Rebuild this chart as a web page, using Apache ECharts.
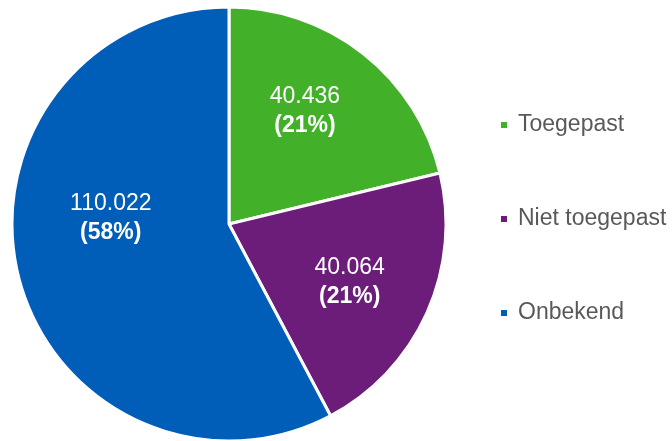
<!DOCTYPE html>
<html><head><meta charset="utf-8">
<script src="https://cdn.jsdelivr.net/npm/echarts@6/dist/echarts.min.js"></script>
<style>html,body{margin:0;padding:0;background:#fff}#c{width:672px;height:441px}</style>
</head><body><div id="c"></div>
<script>
const categories = ['Toegepast', 'Niet toegepast', 'Onbekend'];
const values = [40436, 40064, 110022];
const percents = ['21%', '21%', '58%'];
const colors = ['#43B02A', '#6C1D7A', '#005EB8'];
const labelOffsets = [[7, -25], [19, 12], [-10, -33]];

const fmt = v => v.toLocaleString('de-DE');
const chart = echarts.init(document.getElementById('c'));
chart.setOption({
  animation: false,
  legend: {
    orient: 'vertical', left: 499, top: 113, padding: 0,
    icon: 'rect', itemWidth: 8, itemHeight: 8, itemGap: 70,
    textStyle: { color: '#595959', fontSize: 23, lineHeight: 24, fontFamily: 'Liberation Sans', padding: [0, 0, 0, 5] },
    data: categories
  },
  series: [{
    type: 'pie', center: [229, 224], radius: [0, 217],
    startAngle: 90, clockwise: true,
    itemStyle: { borderColor: '#fff', borderWidth: 3 },
    label: {
      show: true, position: 'inside',
      formatter: p => '{a|' + fmt(p.value) + '}\n{b|(' + percents[p.dataIndex] + ')}',
      rich: {
        a: { color: '#fff', fontSize: 23, fontFamily: 'Liberation Sans', lineHeight: 29 },
        b: { color: '#fff', fontSize: 23, fontWeight: 'bold', fontFamily: 'Liberation Sans', lineHeight: 29 }
      }
    },
    labelLine: { show: false },
    emphasis: { disabled: true },
    data: categories.map((n, i) => ({
      name: n, value: values[i],
      itemStyle: { color: colors[i] },
      label: { offset: labelOffsets[i] }
    }))
  }]
});
</script></body></html>
